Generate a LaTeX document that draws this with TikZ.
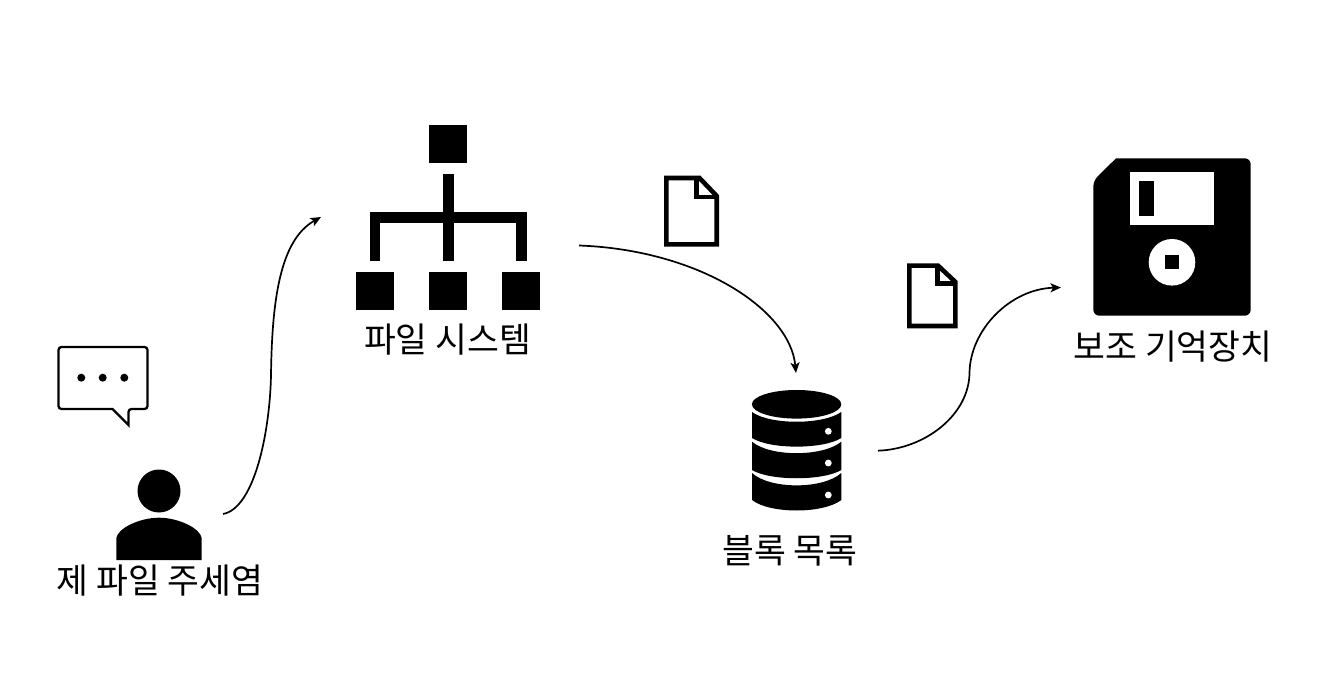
\documentclass[tikz,border=0pt]{standalone}
\usepackage{fontspec}
\setmainfont{Noto Sans CJK KR}
\usetikzlibrary{arrows.meta}
\tikzset{
  lbl/.style={font=\fontsize{34.6}{38}\selectfont, inner sep=0pt, text=black},
  arrow/.style={-{Stealth[length=10.5pt,width=9pt,inset=2.5pt]}, line width=1.7pt},
  treesq/.style={fill=black, minimum size=38pt, inner sep=0pt},
  page/.style={draw=black, fill=white, line width=4.6pt, miter limit=4},
  wdot/.style={fill=white},
  dbdisk/.style={fill=black}
}
\begin{document}
\begin{tikzpicture}[x=1pt,y=-1pt]
\useasboundingbox[fill=white] (0,0) rectangle (1320,692);
% owner and speech bubble
\draw[line width=2.3pt, rounded corners=3pt, fill=white] (58.5,347) -- (147.5,347) -- (147.5,409) -- (128.5,409) [sharp corners] -- (128.5,425) -- (112.5,409) [rounded corners=3pt] -- (58.5,409) -- cycle;
\foreach \x in {81.3,102.7,124.3}{
  \fill (\x,377.7) circle (4);
}
\fill (159,491) circle (21.5);
\fill (116.3,560) -- (116.3,538) .. controls (118,528) and (140,517.7) .. (159,517.7) .. controls (178,517.7) and (200,528) .. (201.7,538) -- (201.7,560) -- cycle;
\coordinate (ownerout) at (223,514);
\node[lbl] (owner) at (160,581) {제 파일 주세염};
% file system tree
\node[treesq] (root) at (448.3,144.5) {};
\foreach \x/\name in {375.2/leafa,448.3/leafb,521.3/leafc}{
  \node[treesq] (\name) at (\x,291.2) {};
}
\fill (443,174.3) rectangle (453.7,261.3);
\fill (369.7,212.3) rectangle (526.7,223.3);
\fill (369.7,212.3) rectangle (380.3,261.3);
\fill (516,212.3) rectangle (526.7,261.3);
\coordinate (fsin) at (321,217);
\coordinate (fsout) at (579,245.5);
\node[lbl] (fs) at (447.5,340) {파일 시스템};
% files on the way
\draw[page] (666.3,178) -- (699.5,178) -- (716.7,196) -- (716.7,244.4) -- (666.3,244.4) -- cycle;
\draw[line width=4.6pt] (696.7,176) -- (696.7,197) -- (717,197);
\draw[page] (909.3,265.6) -- (938,265.6) -- (955.4,282) -- (955.4,326) -- (909.3,326) -- cycle;
\draw[line width=4.6pt] (937.3,264) -- (937.3,283.3) -- (956,283.3);
% block list
\fill (796.6,404.3) ellipse (44.7 and 14.3);
\fill[dbdisk] (752,412) .. controls (770,425) and (823,425) .. (841.3,412) -- (841.3,438) .. controls (823,449.5) and (770,449.5) .. (752,438) -- cycle;
\fill[dbdisk] (752,441.7) .. controls (770,457) and (823,457) .. (841.3,441.7) -- (841.3,470) .. controls (823,481) and (770,481) .. (752,470) -- cycle;
\fill[dbdisk] (752,473) .. controls (770,489.5) and (823,489.5) .. (841.3,473) -- (841.3,500) .. controls (823,514) and (770,514) .. (752,500) -- cycle;
\foreach \y in {431.3,463,495}{
  \fill[wdot] (828.3,\y) circle (3.4);
}
\coordinate (blockin) at (796,373);
\coordinate (blockout) at (878,450.7);
\node[lbl] (block) at (790,551) {블록 목록};
% secondary storage
\fill[rounded corners=6pt] (1093.3,315.7) -- (1093.3,180.7) [sharp corners] -- (1116,158.3) [rounded corners=6pt] -- (1250.7,158.3) -- (1250.7,315.7) -- cycle;
\fill[wdot] (1130.3,172.3) rectangle (1213.7,225.3);
\fill (1139.3,181) rectangle (1153.7,216.3);
\fill[wdot] (1172,262.3) circle (23.3);
\fill (1165,255.3) rectangle (1179.3,269.3);
\coordinate (diskin) at (1061,287.5);
\node[lbl] (disk) at (1173,346.5) {보조 기억장치};
% connectors
\draw[arrow] (ownerout) .. controls (255,508) and (270,430) .. (271,375) .. controls (272,300) and (280,240) .. (fsin);
\draw[arrow] (fsout) .. controls (700,250) and (790,310) .. (blockin);
\draw[arrow] (blockout) .. controls (925,449) and (969,415) .. (969.5,373) .. controls (970,330) and (1010,289) .. (diskin);
\end{tikzpicture}
\end{document}
